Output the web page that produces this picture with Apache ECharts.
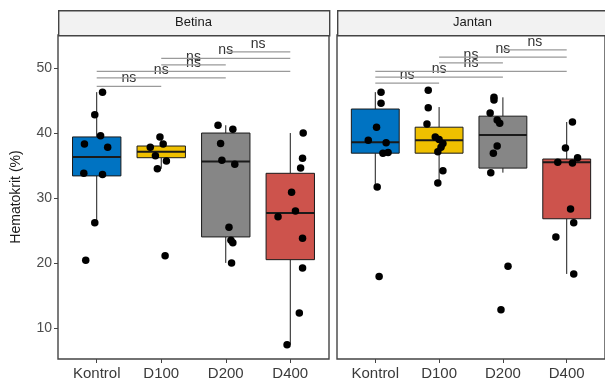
<!DOCTYPE html>
<html>
<head>
<meta charset="utf-8">
<script src="https://cdn.jsdelivr.net/npm/echarts@6/dist/echarts.min.js"></script>
<style>html,body{margin:0;padding:0;background:#fff;}#c{width:605px;height:390px;}</style>
</head>
<body>
<div id="c"></div>
<script>
const categories = ['Kontrol', 'D100', 'D200', 'D400'];
const panels = ['Betina', 'Jantan'];
const yTicks = [10, 20, 30, 40, 50];
const colors = ['#0073C2', '#EFC000', '#868686', '#CD534C'];

// [lower whisker, Q1, median, Q3, upper whisker]
const betinaBox = [
  [26.2, 33.4, 36.3, 39.4, 46.3],
  [34.5, 36.2, 37.1, 38.0, 39.4],
  [20.0, 24.0, 35.6, 40.0, 41.2],
  [7.4, 20.5, 27.7, 33.8, 40.0]
];
const jantanBox = [
  [31.7, 36.9, 38.6, 43.7, 46.3],
  [32.3, 36.9, 38.9, 40.9, 44.0],
  [33.9, 34.6, 39.7, 42.6, 45.5],
  [18.3, 26.8, 35.5, 36.0, 41.7]
];

// points: [category index (1-based) + jitter, value]
const betinaPoints = [
  [1.09, 46.3], [0.97, 42.8], [1.06, 39.6], [0.81, 38.3], [1.17, 37.8], [0.80, 33.8], [1.09, 33.6], [0.97, 26.2], [0.83, 20.4],
  [1.98, 39.4], [1.83, 37.8], [2.03, 38.3], [1.91, 36.5], [2.08, 35.7], [1.94, 34.5], [2.06, 21.1],
  [2.88, 41.2], [3.11, 40.6], [2.92, 38.4], [2.94, 35.8], [3.14, 35.2], [3.05, 25.5], [3.08, 23.5], [3.11, 23.1], [3.09, 20.0],
  [4.20, 40.0], [4.19, 36.1], [4.16, 34.6], [4.02, 30.9], [4.08, 28.0], [3.81, 27.1], [4.19, 23.8], [4.19, 19.2], [4.14, 12.3], [3.95, 7.4]
];
const jantanPoints = [
  [1.09, 46.3], [1.09, 44.6], [1.02, 40.9], [0.89, 38.9], [1.17, 38.5], [1.12, 36.9], [1.20, 37.0], [1.03, 31.7], [1.06, 17.9],
  [1.83, 46.6], [1.83, 43.9], [1.81, 41.4], [1.94, 39.4], [2.00, 39.0], [2.06, 38.4], [2.03, 37.8], [1.98, 37.1], [2.06, 34.2], [1.98, 32.3],
  [2.86, 45.5], [2.86, 45.1], [2.80, 43.1], [2.91, 42.0], [2.95, 41.5], [2.91, 38.0], [2.85, 36.9], [2.81, 33.9], [3.08, 19.5], [2.97, 12.8],
  [4.09, 41.7], [3.98, 37.7], [4.17, 36.2], [3.86, 35.5], [4.09, 35.4], [4.06, 28.3], [4.11, 26.2], [3.83, 24.0], [4.11, 18.3]
];

// significance brackets: [from category, to category] and y level
const pairs = [[1, 2], [1, 3], [1, 4], [2, 3], [2, 4], [3, 4]];
const betinaLevels = [47.2, 48.5, 49.5, 50.5, 51.5, 52.5];
const jantanLevels = [47.7, 48.6, 49.5, 50.8, 51.7, 52.8];
const sigLabel = 'ns';

const FONT = 'Liberation Sans, Arial, sans-serif';
const boxData = [betinaBox, jantanBox];
const pointData = [betinaPoints, jantanPoints];
const levelData = [betinaLevels, jantanLevels];

const gridLefts = [58, 337];
const gridTop = 35, gridW = 271, gridH = 324;

const grids = gridLefts.map(l => ({
  left: l, top: gridTop, width: gridW, height: gridH,
  show: true, borderColor: '#444', borderWidth: 1.4, backgroundColor: '#fff'
}));

const xAxes = [0, 1].map(i => ({
  type: 'value', gridIndex: i, min: 0.4, max: 4.6,
  splitLine: { show: false }, axisLine: { show: false },
  axisTick: { show: true, length: 4, lineStyle: { color: '#444' }, customValues: [1, 2, 3, 4] },
  axisLabel: {
    customValues: [1, 2, 3, 4], margin: 7, fontSize: 15, color: '#3a3a3a', fontFamily: FONT,
    formatter: v => categories[Math.round(v) - 1]
  }
}));

const yAxes = [0, 1].map(i => ({
  type: 'value', gridIndex: i, min: 5.2, max: 55.1,
  splitLine: { show: false }, axisLine: { show: false },
  axisTick: { show: i === 0, length: 4, lineStyle: { color: '#444' }, customValues: yTicks },
  axisLabel: { show: i === 0, customValues: yTicks, margin: 6, fontSize: 14, color: '#4d4d4d', fontFamily: FONT },
  name: i === 0 ? 'Hematokrit (%)' : '',
  nameLocation: 'middle', nameGap: 35, nameRotate: 90,
  nameTextStyle: { fontSize: 14, color: '#1a1a1a', fontFamily: FONT }
}));

const series = [];
[0, 1].forEach(p => {
  series.push({
    type: 'custom', xAxisIndex: p, yAxisIndex: p, clip: false, z: 2,
    data: boxData[p].map((s, k) => [k + 1, ...s]),
    renderItem: function (params, api) {
      const x = api.value(0);
      const k = Math.round(x) - 1;
      const hw = api.size([0.75, 0])[0] / 2;
      const pLo = api.coord([x, api.value(1)]);
      const pQ1 = api.coord([x, api.value(2)]);
      const pMed = api.coord([x, api.value(3)]);
      const pQ3 = api.coord([x, api.value(4)]);
      const pHi = api.coord([x, api.value(5)]);
      const stroke = { stroke: '#1a1a1a', lineWidth: 1 };
      return {
        type: 'group',
        children: [
          { type: 'line', shape: { x1: pLo[0], y1: pLo[1], x2: pQ1[0], y2: pQ1[1] }, style: stroke },
          { type: 'line', shape: { x1: pQ3[0], y1: pQ3[1], x2: pHi[0], y2: pHi[1] }, style: stroke },
          { type: 'rect', shape: { x: pQ3[0] - hw, y: pQ3[1], width: 2 * hw, height: pQ1[1] - pQ3[1] },
            style: { fill: colors[k], stroke: '#1a1a1a', lineWidth: 1 } },
          { type: 'line', shape: { x1: pMed[0] - hw, y1: pMed[1], x2: pMed[0] + hw, y2: pMed[1] },
            style: { stroke: '#1a1a1a', lineWidth: 2 } }
        ]
      };
    }
  });
  series.push({
    type: 'scatter', xAxisIndex: p, yAxisIndex: p, z: 3,
    symbol: 'circle', symbolSize: 7.5, itemStyle: { color: '#000', opacity: 1 },
    data: pointData[p]
  });
  series.push({
    type: 'custom', xAxisIndex: p, yAxisIndex: p, clip: false, z: 4,
    data: pairs.map((pr, j) => [pr[0], pr[1], levelData[p][j]]),
    renderItem: function (params, api) {
      const a = api.coord([api.value(0), api.value(2)]);
      const b = api.coord([api.value(1), api.value(2)]);
      return {
        type: 'group',
        children: [
          { type: 'line', shape: { x1: a[0], y1: a[1], x2: b[0], y2: b[1] },
            style: { stroke: '#9a9a9a', lineWidth: 1.3 } },
          { type: 'text', style: { x: (a[0] + b[0]) / 2, y: a[1] - 1, text: sigLabel,
            fill: '#333', font: '14px ' + FONT, textAlign: 'center', textVerticalAlign: 'bottom' } }
        ]
      };
    }
  });
});

const graphic = [];
[0, 1].forEach(p => {
  graphic.push({
    type: 'rect', left: gridLefts[p], top: 10, z: 10,
    shape: { width: gridW, height: gridTop - 10 },
    style: { fill: '#f2f2f2', stroke: '#444', lineWidth: 1.4 }
  });
  graphic.push({
    type: 'text', x: gridLefts[p] + gridW / 2, y: 10 + (gridTop - 10) / 2, z: 11,
    style: { text: panels[p], fill: '#1a1a1a', font: '13px ' + FONT, textAlign: 'center', textVerticalAlign: 'middle' }
  });
});

const chart = echarts.init(document.getElementById('c'), null, { renderer: 'canvas' });
chart.setOption({
  animation: false,
  backgroundColor: '#fff',
  grid: grids, xAxis: xAxes, yAxis: yAxes, series: series, graphic: graphic
});
</script>
</body>
</html>
